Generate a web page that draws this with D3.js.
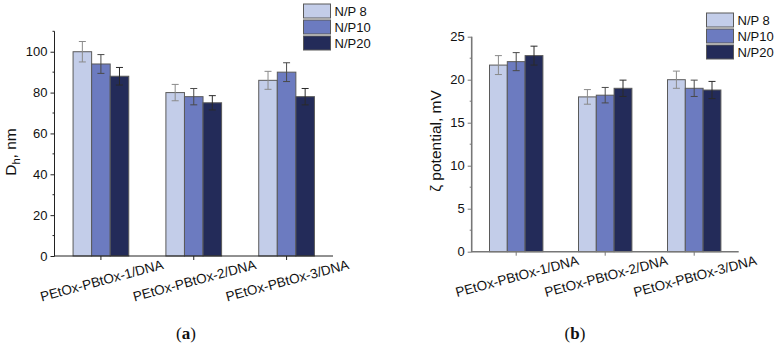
<!DOCTYPE html>
<html>
<head>
<meta charset="utf-8">
<script src="https://d3js.org/d3.v7.min.js"></script>
<style>
body { margin:0; background:#fff; }
svg { display:block; }
svg text { font-family:"Liberation Sans", Arial, sans-serif; }
</style>
</head>
<body>
<svg id="chart" width="777" height="346"></svg>
<script>
var categories = ['PEtOx-PBtOx-1/DNA', 'PEtOx-PBtOx-2/DNA', 'PEtOx-PBtOx-3/DNA'];
var seriesNames = ['N/P 8', 'N/P10', 'N/P20'];
var seriesColors = ['#c3cde9', '#6c7bc0', '#232b59'];
var errColors = ['#8a8a8a', '#4a4a4a', '#2a2a2a'];

// panel (a) hydrodynamic diameter, nm
var dhValues = [[100, 80, 86], [94, 78, 90], [88, 75, 78]];
var dhErrors = [[5, 4, 4.4], [4.6, 4, 4.6], [4.3, 3.5, 4]];
var dhTicks = [0, 20, 40, 60, 80, 100];

// panel (b) zeta potential, mV
var zetaValues = [[21.7, 18.0, 20.0], [22.1, 18.2, 19.0], [22.8, 19.0, 18.8]];
var zetaErrors = [[1.1, 0.85, 1.0], [1.05, 0.9, 0.95], [1.1, 0.95, 1.0]];
var zetaTicks = [0, 5, 10, 15, 20, 25];

var svg = d3.select('#chart');

function drawPanel(p) {
    var g = svg.append('g');
    var y = d3.scaleLinear().domain(p.domain).range([p.y0, p.y1]);
    var x = d3.scaleBand().domain(categories).range([p.x0, p.x1]);
    var bw = x.bandwidth() * 0.2;
    var xs = d3.scaleBand().domain(d3.range(seriesNames.length))
        .range([-1.5 * bw, 1.5 * bw]);

    // bars
    seriesNames.forEach(function(s, si) {
        categories.forEach(function(c, ci) {
            var v = p.values[si][ci], e = p.errors[si][ci];
            var bx = x(c) + x.bandwidth() / 2 + xs(si);
            g.append('rect')
                .attr('x', bx).attr('y', y(v))
                .attr('width', bw).attr('height', y(0) - y(v))
                .attr('fill', seriesColors[si])
                .attr('stroke', '#5a5a5a').attr('stroke-width', 1);
            var cx = bx + bw / 2;
            var eg = g.append('g').attr('stroke', errColors[si]).attr('stroke-width', 1);
            eg.append('line').attr('x1', cx).attr('x2', cx).attr('y1', y(v - e)).attr('y2', y(v + e));
            eg.append('line').attr('x1', cx - 3.5).attr('x2', cx + 3.5).attr('y1', y(v + e)).attr('y2', y(v + e));
            eg.append('line').attr('x1', cx - 3.5).attr('x2', cx + 3.5).attr('y1', y(v - e)).attr('y2', y(v - e));
        });
    });

    // y axis
    var yAxis = g.append('g').attr('transform', 'translate(' + p.x0 + ',0)')
        .call(d3.axisLeft(y).tickValues(p.ticks).tickSize(4).tickPadding(3));
    yAxis.select('.domain').remove();
    yAxis.selectAll('.tick line').attr('stroke', p.axisColor);
    yAxis.selectAll('text').attr('font-size', 13).attr('fill', '#111')
        .attr('font-family', '"Liberation Sans", Arial, sans-serif');
    var minor = d3.range(p.ticks.length - 1).map(function(i) { return (p.ticks[i] + p.ticks[i + 1]) / 2; });
    if (p.domain[1] > p.ticks[p.ticks.length - 1]) minor.push((p.ticks[p.ticks.length - 1] + p.ticks[1] / 2));
    g.selectAll(null).data(minor).enter().append('line')
        .attr('x1', p.x0 - 2).attr('x2', p.x0)
        .attr('y1', function(d) { return y(d); }).attr('y2', function(d) { return y(d); })
        .attr('stroke', p.axisColor);
    g.append('line').attr('x1', p.x0).attr('x2', p.x0).attr('y1', y(0) + 0.5).attr('y2', y(p.domain[1]))
        .attr('stroke', p.axisColor).attr('stroke-width', p.axisWidth);

    // x axis
    g.append('line').attr('x1', p.x0).attr('x2', p.x1).attr('y1', y(0)).attr('y2', y(0))
        .attr('stroke', p.axisColor).attr('stroke-width', p.axisWidth);
    categories.forEach(function(c) {
        var cx = x(c) + x.bandwidth() / 2;
        g.append('line').attr('x1', cx).attr('x2', cx).attr('y1', y(0)).attr('y2', y(0) + 4)
            .attr('stroke', p.axisColor);
        g.append('text')
            .attr('transform', 'translate(' + (cx + 2) + ',' + (y(0) + 29) + ') rotate(-15)')
            .attr('text-anchor', 'middle').attr('font-size', 13.5).attr('fill', '#111')
            .text(c);
    });

    // y label
    var yl = g.append('text')
        .attr('transform', 'translate(' + p.labelX + ',' + p.labelY + ') rotate(-90)')
        .attr('text-anchor', 'middle').attr('font-size', 15.5).attr('fill', '#111');
    p.label(yl);

    // legend
    seriesNames.forEach(function(s, si) {
        g.append('rect')
            .attr('x', p.legX).attr('y', p.legY + si * 16)
            .attr('width', 27).attr('height', 14)
            .attr('fill', seriesColors[si]).attr('stroke', '#5a5a5a');
        g.append('text')
            .attr('x', p.legX + 31).attr('y', p.legY + si * 16 + 12)
            .attr('font-size', 13).attr('fill', '#111').text(s);
    });

    // caption
    var cap = g.append('text').attr('x', p.capX).attr('y', 339)
        .attr('text-anchor', 'middle')
        .attr('font-size', 17).attr('fill', '#111')
        .style('font-family', '"Liberation Serif", "DejaVu Serif", serif');
    cap.append('tspan').text('(');
    cap.append('tspan').attr('font-weight', 'bold').text(p.capLetter);
    cap.append('tspan').text(')');
}

drawPanel({
    values: dhValues, errors: dhErrors, ticks: dhTicks, domain: [0, 110],
    x0: 54.5, x1: 333, y0: 256, y1: 31.3,
    axisColor: '#222', axisWidth: 1,
    labelX: 16, labelY: 152,
    label: function(t) {
        t.append('tspan').text('D');
        t.append('tspan').attr('font-size', 11).attr('dy', 4).text('h');
        t.append('tspan').attr('dy', -4).text(', nm');
    },
    legX: 303.5, legY: 4, capX: 186, capLetter: 'a'
});

drawPanel({
    values: zetaValues, errors: zetaErrors, ticks: zetaTicks, domain: [0, 25],
    x0: 471.7, x1: 738.7, y0: 251.7, y1: 36.7,
    axisColor: '#777', axisWidth: 1.6,
    labelX: 441, labelY: 141,
    label: function(t) { t.text('\u03b6 potential, mV'); },
    legX: 706.5, legY: 13, capX: 575, capLetter: 'b'
});
</script>
</body>
</html>
